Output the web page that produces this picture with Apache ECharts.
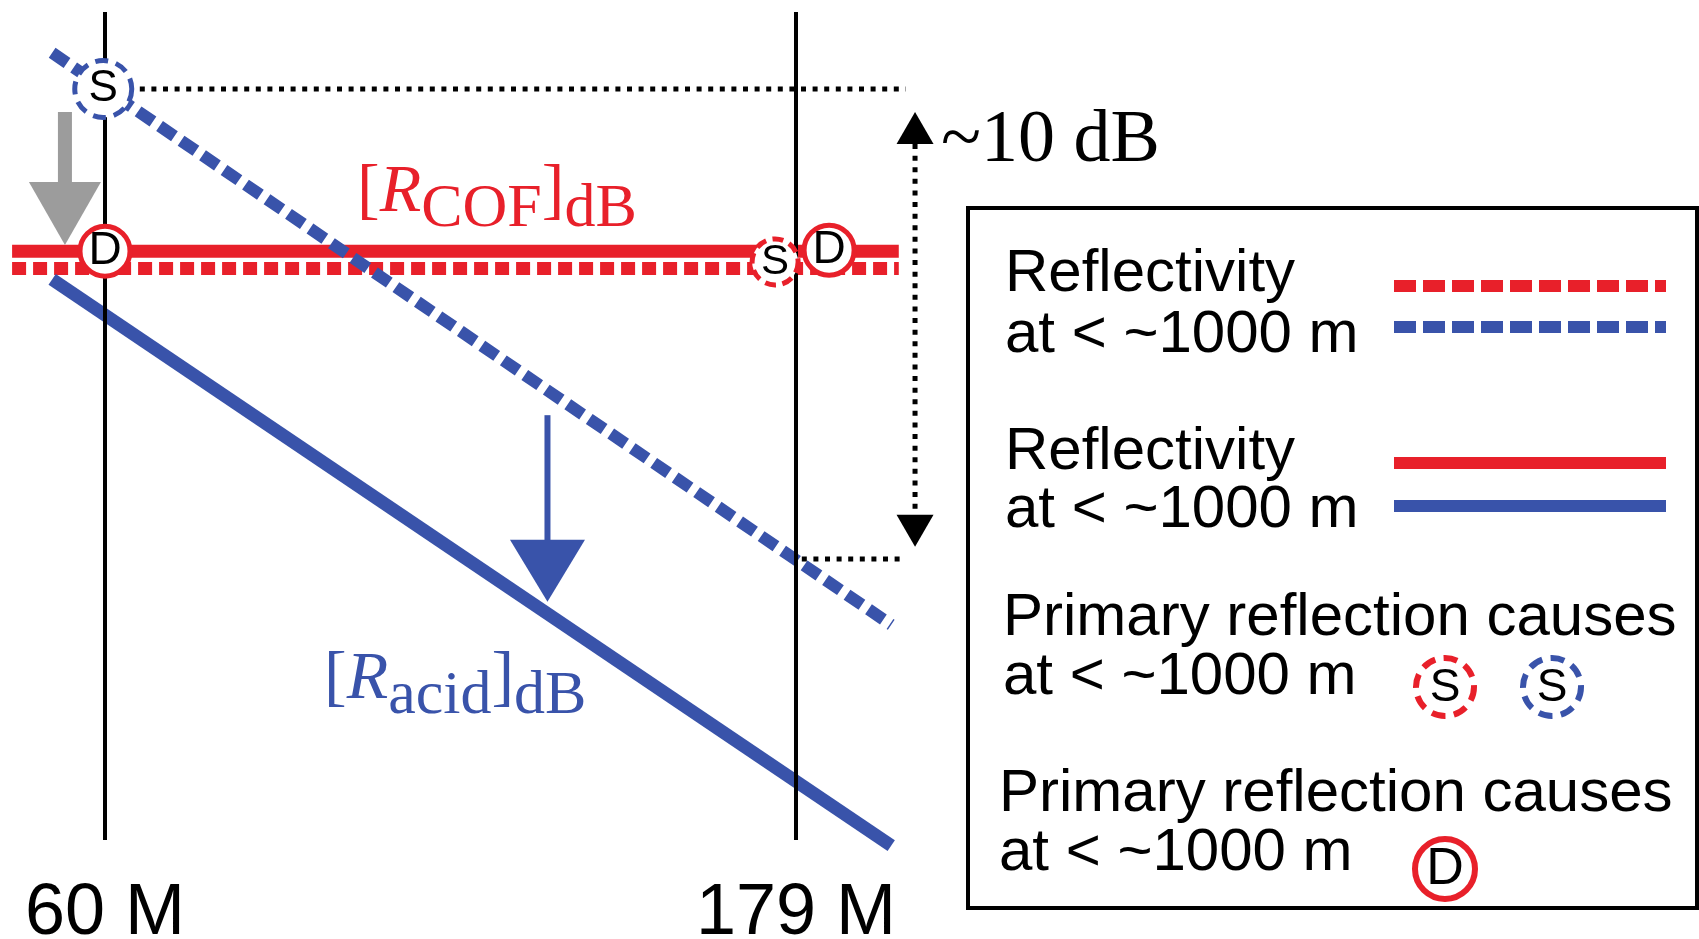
<!DOCTYPE html>
<html>
<head>
<meta charset="utf-8">
<title>Reflectivity vs frequency</title>
<script src="https://cdn.jsdelivr.net/npm/echarts@6/dist/echarts.min.js"></script>
<style>
  html, body { margin: 0; padding: 0; background: #ffffff; }
  #chart { width: 1699px; height: 939px; }
</style>
</head>
<body>
<div id="chart"></div>
<script>
// Frequency axis (MHz) and its labelled ticks
const freqTicks = [60, 179];
const freqTickLabels = ['60 M', '179 M'];

// Vertical reference lines at the two radar frequencies (dB extent)
const refLineFreq = [60, 179];
const refLineSpanDb = [1.64, -15.98];

// COF reflectivity: flat with frequency
const cofFreq = [44.0, 196.7];
const cofSolidDb = [-3.45, -3.45];
const cofDashedDb = [-3.82, -3.82];

// Acidity reflectivity: falls with frequency
const acidFreq = [50.9, 195.4];
const acidDashedDb = [0.77, -11.40];
const acidSolidDb = [-4.05, -16.10];

// Markers for the primary reflection cause
const causeSBlue = [[59.7, 0.0]];
const causeSRed = [[175.4, -3.68]];
const causeD = [[60.0, -3.45], [184.7, -3.43]];

// Dotted level guides of the ~10 dB drop
const guideTopFreq = [60, 197.9];
const guideTopDb = [0, 0];
const guideBottomFreq = [180, 197.9];
const guideBottomDb = [-10, -10];

// Arrows: [freq, from dB, to dB]
const dropArrowGray = [53.1, -0.49, -3.32];
const dropArrowBlue = [136.2, -6.94, -10.91];
const spanArrow = [199.5, -0.49, -9.74];

// Legend text
const legendRows = [
  ['Reflectivity', 'at < ~1000 m'],
  ['Reflectivity', 'at < ~1000 m'],
  ['Primary reflection causes', 'at < ~1000 m'],
  ['Primary reflection causes', 'at < ~1000 m']
];

// Axis ranges and plot scale
const X_MIN = 42, X_MAX = 200;
const Y_MIN = -16.4, Y_MAX = 1.8;
const PX_PER_MHZ = 691 / 119;
const PX_PER_DB = 47;
const X60_PX = 105, Y0_PX = 89;

const RED = '#e8202a';
const BLUE = '#3953aa';
const GRAY = '#9c9c9c';
const FONT_SANS = '"Liberation Sans", Arial, Helvetica, sans-serif';
const FONT_SERIF = '"Liberation Serif", "Times New Roman", serif';

const zip = (xs, ys) => xs.map((x, i) => [x, ys[i]]);

function lineSeries(name, xs, ys, color, width, dash, z) {
  return {
    name: name, type: 'line', data: zip(xs, ys), symbol: 'none', clip: false,
    silent: true, animation: false, z: z || 2,
    lineStyle: { color: color, width: width, type: dash || 'solid', cap: 'butt' }
  };
}

function arrowSeries(name, item, o) {
  return {
    name: name, type: 'custom', data: [item], encode: { x: 0, y: [1, 2] },
    silent: true, clip: false, animation: false, z: 4,
    renderItem: function (params, api) {
      const tail = api.coord([api.value(0), api.value(1)]);
      const tip = api.coord([api.value(0), api.value(2)]);
      const dir = tip[1] > tail[1] ? 1 : -1;
      const x = tip[0];
      const base = tip[1] - dir * o.headLen;
      const children = [];
      let start = tail[1];
      if (o.double) {
        start = tail[1] + dir * o.headLen;
        children.push({ type: 'polygon', shape: { points: [[x, tail[1]], [x - o.headW / 2, start], [x + o.headW / 2, start]] }, style: { fill: o.color } });
      }
      children.push({ type: 'line', shape: { x1: x, y1: start, x2: x, y2: base + dir },
        style: { stroke: o.color, lineWidth: o.shaftW, lineDash: o.dash || null } });
      children.push({ type: 'polygon', shape: { points: [[x, tip[1]], [x - o.headW / 2, base], [x + o.headW / 2, base]] }, style: { fill: o.color } });
      return { type: 'group', children: children };
    }
  };
}

function causeSeries(name, data, color, size, dash, letter, fontSize) {
  return {
    name: name, type: 'scatter', data: data, symbol: 'circle', symbolSize: size,
    clip: false, silent: true, animation: false, z: 6,
    itemStyle: { color: '#ffffff', borderColor: color, borderWidth: 5, borderType: dash || 'solid', opacity: 1 },
    label: { show: true, position: 'inside', formatter: letter, color: '#000000',
      fontSize: fontSize, fontFamily: FONT_SANS },
    emphasis: { disabled: true }
  };
}

// Legend panel drawn as graphic elements
function legendGraphics() {
  const g = [];
  g.push({ type: 'rect', shape: { x: 968, y: 208, width: 729, height: 700 },
    style: { fill: 'transparent', stroke: '#000', lineWidth: 4 } });
  const rowY = [[274, 335], [452, 510], [618, 677], [794, 853]];
  const rowX = [1005, 1005, 1003, 999];
  legendRows.forEach((r, i) => {
    r.forEach((t, j) => g.push({ type: 'text', x: rowX[i], y: rowY[i][j],
      style: { text: t, fill: '#000', fontSize: 60, fontFamily: FONT_SANS,
        textAlign: 'left', textVerticalAlign: 'middle' } }));
  });
  const swatches = [[286, RED, [22, 7]], [327, BLUE, [22, 7]], [463, RED, null], [506, BLUE, null]];
  swatches.forEach(s => g.push({ type: 'line', shape: { x1: 1394, y1: s[0], x2: 1666, y2: s[0] },
    style: { stroke: s[1], lineWidth: 12, lineDash: s[2] } }));
  const marks = [[1445, 687, RED, [14, 8.5], 'S', 46, 29], [1552, 687, BLUE, [14, 8.5], 'S', 46, 29], [1445, 869, RED, null, 'D', 52, 30]];
  marks.forEach(m => {
    g.push({ type: 'circle', shape: { cx: m[0], cy: m[1], r: m[6] },
      style: { fill: '#fff', stroke: m[2], lineWidth: 6, lineDash: m[3] } });
    g.push({ type: 'text', x: m[0], y: m[1] + 1,
      style: { text: m[4], fill: '#000', fontSize: m[5], fontFamily: FONT_SANS,
        textAlign: 'center', textVerticalAlign: 'middle' } });
  });
  return g;
}

function subscriptLabel(x, y, sub, color) {
  return { type: 'text', x: x, y: y,
    style: {
      text: '{m|[}{i|R}{s|' + sub + '}{m|]}{s|dB}',
      textAlign: 'left', textVerticalAlign: 'top',
      rich: {
        m: { fill: color, fontSize: 68, fontFamily: FONT_SERIF, verticalAlign: 'top', lineHeight: 74 },
        i: { fill: color, fontSize: 68, fontFamily: FONT_SERIF, fontStyle: 'italic', verticalAlign: 'top', lineHeight: 74 },
        s: { fill: color, fontSize: 62, fontFamily: FONT_SERIF, verticalAlign: 'bottom', padding: [20, 0, 0, 0], lineHeight: 82 }
      }
    } };
}

const gridLeft = X60_PX - (60 - X_MIN) * PX_PER_MHZ;
const gridTop = Y0_PX - Y_MAX * PX_PER_DB;
const gridHeight = (Y_MAX - Y_MIN) * PX_PER_DB;

const chart = echarts.init(document.getElementById('chart'), null, { renderer: 'canvas' });

const option = {
  backgroundColor: '#ffffff',
  animation: false,
  grid: {
    left: gridLeft, top: gridTop, width: (X_MAX - X_MIN) * PX_PER_MHZ, height: gridHeight,
    containLabel: false, outerBoundsMode: 'none'
  },
  xAxis: {
    type: 'value', min: X_MIN, max: X_MAX,
    axisLine: { show: false }, axisTick: { show: false }, splitLine: { show: false },
    axisLabel: {
      customValues: freqTicks,
      formatter: v => { const i = freqTicks.indexOf(v); return i >= 0 ? freqTickLabels[i] : ''; },
      margin: 878 - (gridTop + gridHeight), fontSize: 72, color: '#000', fontFamily: FONT_SANS
    }
  },
  yAxis: { type: 'value', min: Y_MIN, max: Y_MAX, show: false },
  series: [
    lineSeries('COF solid', cofFreq, cofSolidDb, RED, 13),
    lineSeries('COF dashed', cofFreq, cofDashedDb, RED, 13, [14, 7]),
    lineSeries('Acid dashed', acidFreq, acidDashedDb, BLUE, 12, [18, 8]),
    lineSeries('Acid solid', acidFreq, acidSolidDb, BLUE, 13),
    lineSeries('60 MHz', [refLineFreq[0], refLineFreq[0]], refLineSpanDb, '#000', 4, null, 3),
    lineSeries('179 MHz', [refLineFreq[1], refLineFreq[1]], refLineSpanDb, '#000', 4, null, 3),
    lineSeries('Top guide', guideTopFreq, guideTopDb, '#000', 5, [5, 6.6], 3),
    lineSeries('Bottom guide', guideBottomFreq, guideBottomDb, '#000', 5, [5, 6.6], 3),
    arrowSeries('Gray drop', dropArrowGray, { color: GRAY, shaftW: 14, headW: 72, headLen: 63 }),
    arrowSeries('Blue drop', dropArrowBlue, { color: BLUE, shaftW: 6, headW: 75, headLen: 62 }),
    arrowSeries('Span', spanArrow, { color: '#000', shaftW: 5, headW: 37, headLen: 32, double: true, dash: [5, 6.6] }),
    causeSeries('S blue', causeSBlue, BLUE, 57, [13, 8], 'S', 44),
    causeSeries('S red', causeSRed, RED, 46, [11, 6.5], 'S', 42),
    causeSeries('D', causeD, RED, 50, null, 'D', 46)
  ],
  graphic: [
    subscriptLabel(357, 159, 'COF', RED),
    subscriptLabel(324, 646, 'acid', BLUE),
    { type: 'text', x: 941, y: 142,
      style: { text: '~10 dB', fill: '#000', fontSize: 74, fontFamily: FONT_SERIF,
        textAlign: 'left', textVerticalAlign: 'middle' } }
  ].concat(legendGraphics())
};

chart.setOption(option);
</script>
</body>
</html>
